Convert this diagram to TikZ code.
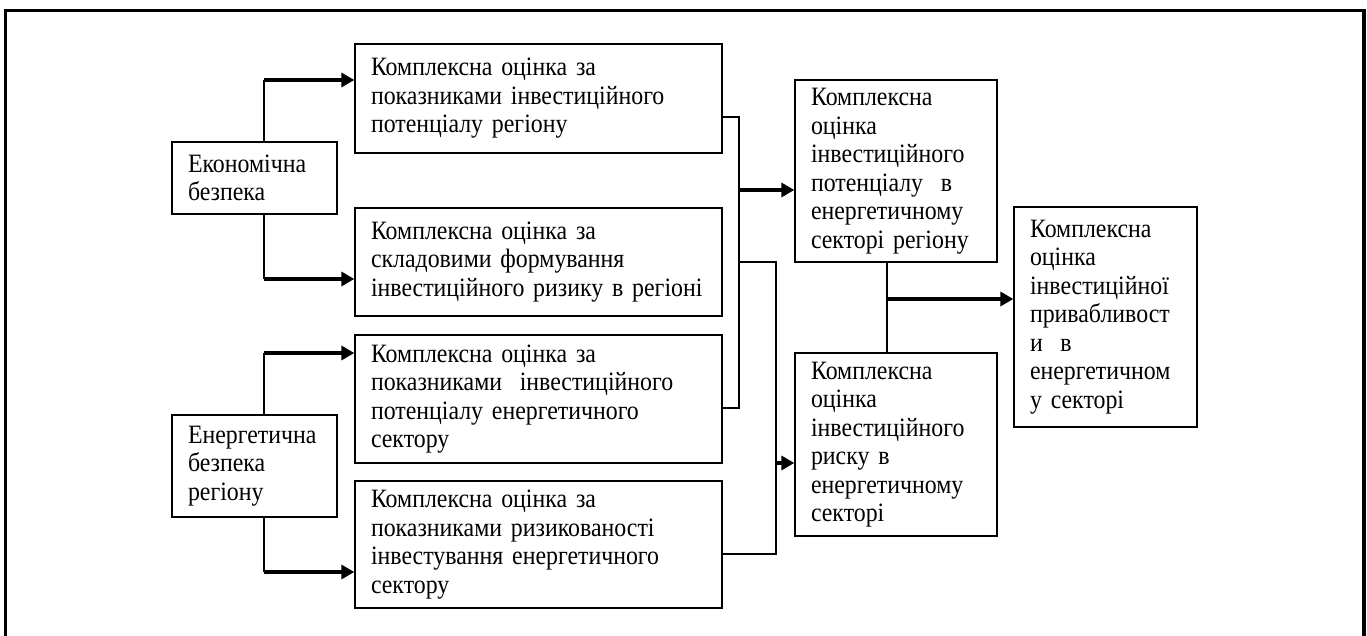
\documentclass[tikz,border=0pt]{standalone}
\usepackage{fontspec}
\setmainfont[FakeStretch=0.9]{Liberation Serif}
\usetikzlibrary{arrows.meta}
\hyphenpenalty=10000
\exhyphenpenalty=10000

\tikzset{
  box/.style={draw, line width=1.3pt, align=left, inner xsep=16pt, inner ysep=0pt,
    font=\fontsize{26.5}{28.5}\selectfont},
  link/.style={line width=1.3pt},
  arr/.style={line width=3.2pt, -{Triangle[length=13pt,width=14pt]}},
  frame/.style={line width=3.2pt}
}

\begin{document}
\begin{tikzpicture}[x=1pt, y=-1pt]
\useasboundingbox (0,0) rectangle (1367,636);

% outer frame (open at the bottom edge of the page)
\draw[frame] (5.5,660) -- (5.5,10.5) -- (1364,10.5) -- (1364,660);

% source boxes
\node[box, text width=133pt, minimum height=72pt] (E1) at (254.5,178)
  {Економічна\\безпека};
\node[box, text width=133pt, minimum height=102pt] (E2) at (254.5,466)
  {Енергетична\\безпека\\регіону};

% partial assessments
\node[box, text width=335pt, minimum height=109pt] (A) at (538.5,98.5)
  {Комплексна оцінка за\\показниками інвестиційного\\потенціалу регіону};
\node[box, text width=335pt, minimum height=108pt] (B) at (538.5,262)
  {Комплексна оцінка за\\складовими формування\\інвестиційного ризику в регіоні};
\node[box, text width=335pt, minimum height=128pt] (C) at (538.5,399)
  {Комплексна оцінка за\\показниками\ \ інвестиційного\\потенціалу енергетичного\\сектору};
\node[box, text width=335pt, minimum height=127pt] (D) at (538.5,544.5)
  {Комплексна оцінка за\\показниками ризикованості\\інвестування енергетичного\\сектору};

% aggregated assessments
\node[box, text width=170pt, minimum height=182pt] (P) at (896,171)
  {Комплексна\\оцінка\\інвестиційного\\потенціалу\ \ в\\енергетичному\\секторі регіону};
\node[box, text width=170pt, minimum height=183pt] (Q) at (896,444.5)
  {Комплексна\\оцінка\\інвестиційного\\риску в\\енергетичному\\секторі};
\node[box, text width=151pt, minimum height=220pt] (R) at (1105.5,317)
  {Комплексна\\оцінка\\інвестиційної\\привабливост\\и\ \ в\\енергетичном\\у секторі};

% branches from the security boxes
\coordinate (e1a) at (264,80);
\coordinate (e1b) at (264,279);
\coordinate (e2c) at (264,353);
\coordinate (e2d) at (264,572);
\draw[link] (e1a |- E1.north) -- (e1a);
\draw[arr] (e1a) -- (e1a -| A.west);
\draw[link] (e1b |- E1.south) -- (e1b);
\draw[arr] (e1b) -- (e1b -| B.west);
\draw[link] (e2c |- E2.north) -- (e2c);
\draw[arr] (e2c) -- (e2c -| C.west);
\draw[link] (e2d |- E2.south) -- (e2d);
\draw[arr] (e2d) -- (e2d -| D.west);

% potential collector
\coordinate (ja) at (739,117);
\coordinate (jc) at (739,408);
\coordinate (jp) at (739,190);
\draw[link] (ja -| A.east) -- (ja) -- (jc) -- (jc -| C.east);
\draw[arr] (jp) -- (jp -| P.west);

% risk collector
\coordinate (kb) at (739,262);
\coordinate (kt) at (776,262);
\coordinate (kd) at (776,554);
\coordinate (kq) at (776,463);
\draw[link] (kb) -- (kt) -- (kd) -- (kd -| D.east);
\draw[arr] (kq) -- (kq -| Q.west);

% final assessment
\coordinate (mr) at (887,299);
\draw[link] (mr |- P.south) -- (mr |- Q.north);
\draw[arr] (mr) -- (mr -| R.west);
\end{tikzpicture}
\end{document}
